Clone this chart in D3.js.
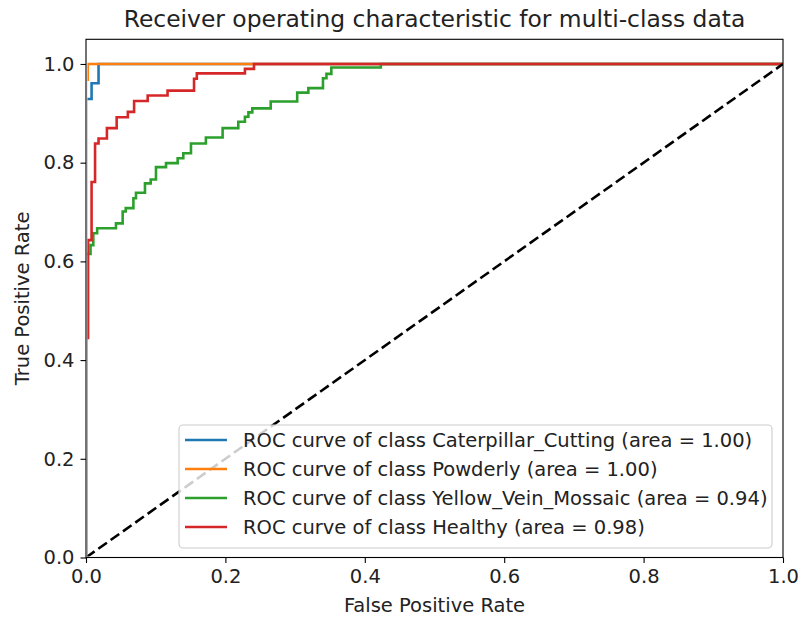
<!DOCTYPE html>
<html>
<head>
<meta charset="utf-8">
<script src="https://cdn.jsdelivr.net/npm/d3@7"></script>
<style>
  html, body { margin: 0; padding: 0; background: #ffffff; }
  svg { display: block; font-family: "DejaVu Sans", sans-serif; }
</style>
</head>
<body>
<svg id="chart" width="798" height="618"></svg>
<script>
// ROC curve points (false positive rate / true positive rate), one pair of arrays per class
const caterpillarFpr = [0, 0, 0.008, 0.008, 0.018, 0.018, 1];
const caterpillarTpr = [0, 0.929, 0.929, 0.961, 0.961, 1, 1];

const powderlyFpr = [0, 0, 0.0025, 0.0025, 1];
const powderlyTpr = [0, 0.968, 0.968, 1, 1];

const yellowFpr = [0, 0, 0.0065, 0.0065, 0.0105, 0.0105, 0.016, 0.016, 0.043, 0.043,
  0.0526, 0.0526, 0.057, 0.057, 0.068, 0.068, 0.0717, 0.0717, 0.0846, 0.0846,
  0.0928, 0.0928, 0.1004, 0.1004, 0.1148, 0.1148, 0.1315, 0.1315, 0.1396, 0.1396,
  0.1506, 0.1506, 0.172, 0.172, 0.196, 0.196, 0.2185, 0.2185, 0.228, 0.228,
  0.233, 0.233, 0.2386, 0.2386, 0.265, 0.265, 0.303, 0.303, 0.319, 0.319,
  0.340, 0.340, 0.345, 0.345, 0.352, 0.352, 0.423, 0.423, 1];
const yellowTpr = [0, 0.615, 0.615, 0.633, 0.633, 0.657, 0.657, 0.667, 0.667, 0.677,
  0.677, 0.701, 0.701, 0.708, 0.708, 0.728, 0.728, 0.739, 0.739, 0.758,
  0.758, 0.766, 0.766, 0.791, 0.791, 0.799, 0.799, 0.809, 0.809, 0.819,
  0.819, 0.839, 0.839, 0.851, 0.851, 0.870, 0.870, 0.883, 0.883, 0.893,
  0.893, 0.902, 0.902, 0.910, 0.910, 0.924, 0.924, 0.942, 0.942, 0.951,
  0.951, 0.971, 0.971, 0.980, 0.980, 0.993, 0.993, 1, 1];

const healthyFpr = [0, 0, 0.003, 0.003, 0.008, 0.008, 0.013, 0.013, 0.018, 0.018,
  0.030, 0.030, 0.044, 0.044, 0.060, 0.060, 0.069, 0.069, 0.0885, 0.0885,
  0.117, 0.117, 0.155, 0.155, 0.159, 0.159, 0.228, 0.228, 0.241, 0.241, 1];
const healthyTpr = [0, 0.445, 0.445, 0.643, 0.643, 0.761, 0.761, 0.839, 0.839, 0.849,
  0.849, 0.870, 0.870, 0.892, 0.892, 0.903, 0.903, 0.925, 0.925, 0.936,
  0.936, 0.946, 0.946, 0.970, 0.970, 0.981, 0.981, 0.990, 0.990, 1, 1];

const classNames = ["Caterpillar_Cutting", "Powderly", "Yellow_Vein_Mossaic", "Healthy"];
const classAreas = ["1.00", "1.00", "0.94", "0.98"];
const classColors = ["#1f77b4", "#ff7f0e", "#2ca02c", "#d62728"];
const fprSets = [caterpillarFpr, powderlyFpr, yellowFpr, healthyFpr];
const tprSets = [caterpillarTpr, powderlyTpr, yellowTpr, healthyTpr];

const xTicks = [0, 0.2, 0.4, 0.6, 0.8, 1.0];
const yTicks = [0, 0.2, 0.4, 0.6, 0.8, 1.0];

const titleText = "Receiver operating characteristic for multi-class data";
const xLabel = "False Positive Rate";
const yLabel = "True Positive Rate";

// ---- layout ----
const svg = d3.select("#chart");
const plot = { left: 86, right: 783, top: 39.3, bottom: 557.5 };
const labelSize = "19.5px";

const x = d3.scaleLinear().domain([0, 1]).range([plot.left, plot.right]);
const y = d3.scaleLinear().domain([0, 1.05]).range([plot.bottom, plot.top]);

// curves sitting on the left/bottom spines stay hidden behind the frame
svg.append("defs").append("clipPath").attr("id", "plot-clip")
  .append("rect")
  .attr("x", plot.left + 1.4).attr("y", plot.top)
  .attr("width", plot.right - plot.left - 1.4).attr("height", plot.bottom - plot.top - 1);

const lines = svg.append("g").attr("clip-path", "url(#plot-clip)");
const lineGen = d3.line().x(d => x(d[0])).y(d => y(d[1]));

// one curve per class
fprSets.forEach((fpr, i) => {
  const pts = fpr.map((v, k) => [v, tprSets[i][k]]);
  lines.append("path")
    .datum(pts)
    .attr("d", lineGen)
    .attr("fill", "none")
    .attr("stroke", classColors[i])
    .attr("stroke-width", 2.6)
    .attr("stroke-linejoin", "miter")
    .attr("stroke-linecap", "butt");
});

// chance diagonal
lines.append("path")
  .datum([[0, 0], [1, 1]])
  .attr("d", lineGen)
  .attr("fill", "none")
  .attr("stroke", "#000")
  .attr("stroke-width", 2.6)
  .attr("stroke-dasharray", "10.5,4.6");

// axes
const fmt = d3.format(".1f");
const xAxis = svg.append("g")
  .attr("transform", `translate(0,${plot.bottom})`)
  .call(d3.axisBottom(x).tickValues(xTicks).tickFormat(fmt).tickSize(5.5).tickSizeOuter(0).tickPadding(6));
const yAxis = svg.append("g")
  .attr("transform", `translate(${plot.left},0)`)
  .call(d3.axisLeft(y).tickValues(yTicks).tickFormat(fmt).tickSize(5.5).tickSizeOuter(0).tickPadding(6));

[xAxis, yAxis].forEach(g => {
  g.select(".domain").remove();
  g.selectAll(".tick line").attr("stroke", "#000").attr("stroke-width", 1.1);
  g.selectAll(".tick text")
    .attr("fill", "#222")
    .style("font-family", "'DejaVu Sans', sans-serif")
    .style("font-size", labelSize);
});
xAxis.selectAll(".tick text").attr("dy", "0.71em");

// frame
svg.append("rect")
  .attr("x", plot.left).attr("y", plot.top)
  .attr("width", plot.right - plot.left).attr("height", plot.bottom - plot.top)
  .attr("fill", "none").attr("stroke", "#000").attr("stroke-width", 1.1);

// title and axis labels
svg.append("text")
  .attr("x", (plot.left + plot.right) / 2).attr("y", 27)
  .attr("text-anchor", "middle")
  .attr("fill", "#222")
  .style("font-size", "23.4px")
  .text(titleText);

svg.append("text")
  .attr("x", (plot.left + plot.right) / 2).attr("y", 612)
  .attr("text-anchor", "middle")
  .attr("fill", "#222")
  .style("font-size", labelSize)
  .text(xLabel);

svg.append("text")
  .attr("transform", `translate(29,${(plot.top + plot.bottom) / 2}) rotate(-90)`)
  .attr("text-anchor", "middle")
  .attr("fill", "#222")
  .style("font-size", labelSize)
  .text(yLabel);

// legend
const legend = svg.append("g");
legend.append("rect")
  .attr("x", 179).attr("y", 425)
  .attr("width", 593).attr("height", 123)
  .attr("rx", 4).attr("ry", 4)
  .attr("fill", "#ffffff").attr("fill-opacity", 0.8)
  .attr("stroke", "#cccccc").attr("stroke-width", 1.1);

const rowY = d3.scaleLinear().domain([0, 3]).range([440, 527]);
classNames.forEach((name, i) => {
  const cy = rowY(i);
  legend.append("line")
    .attr("x1", 185).attr("x2", 227)
    .attr("y1", cy).attr("y2", cy)
    .attr("stroke", classColors[i]).attr("stroke-width", 2.6);
  legend.append("text")
    .attr("x", 243).attr("y", cy)
    .attr("dy", "0.35em")
    .attr("fill", "#222")
    .style("font-size", labelSize)
    .text(`ROC curve of class ${name} (area = ${classAreas[i]})`);
});
</script>
</body>
</html>
